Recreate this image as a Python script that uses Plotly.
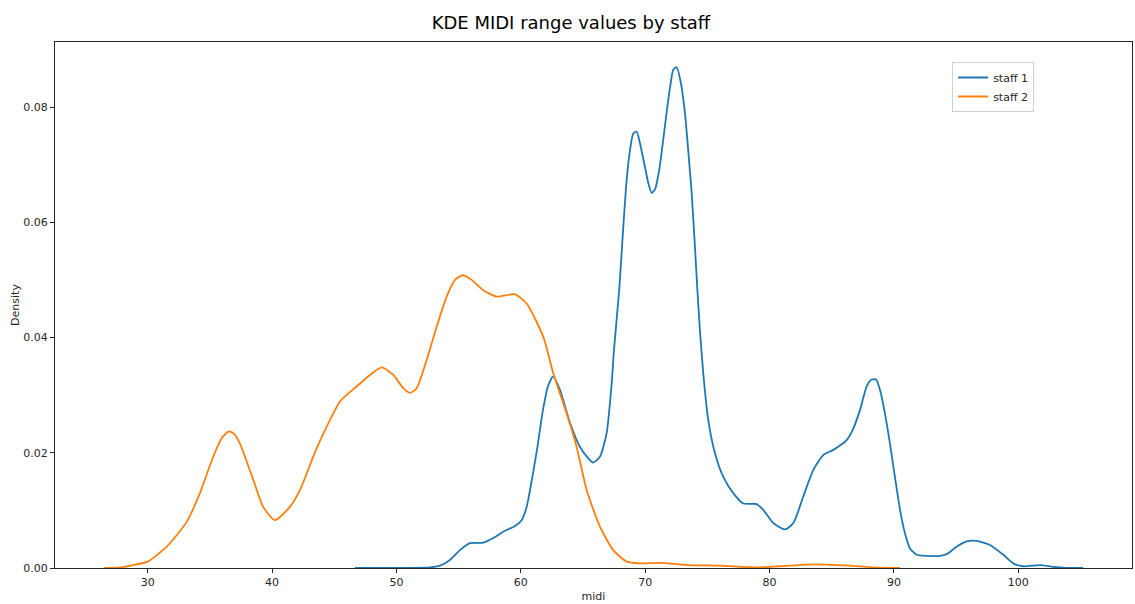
import plotly.graph_objects as go

# Kernel density estimates of MIDI pitch values, one curve per staff
staff1_midi = [46.67, 50.29, 52.70, 53.50, 54.30, 55.11, 55.91, 56.98, 57.79, 58.59,
               59.53, 60.07, 60.47, 60.74, 61.30, 61.78, 62.18, 62.59, 63.15, 63.95,
               64.76, 65.40, 65.80, 66.36, 66.90, 67.31, 67.49, 67.92, 68.24, 68.51,
               68.78, 69.04, 69.32, 69.58, 69.98, 70.25, 70.52, 70.79, 71.13, 71.45,
               71.78, 72.05, 72.26, 72.53, 72.85, 73.20, 73.46, 73.74, 74.00, 74.19,
               74.40, 74.67, 75.07, 75.61, 76.28, 77.08, 77.89, 78.96, 79.49, 80.30,
               81.24, 81.91, 82.71, 83.51, 84.32, 85.12, 86.20, 86.73, 87.27, 87.81,
               88.21, 88.56, 88.88, 89.28, 89.68, 90.08, 90.49, 90.89, 91.29, 91.83,
               92.63, 93.70, 94.24, 95.04, 95.85, 96.65, 97.72, 98.79, 99.59, 100.40,
               101.74, 102.81, 103.89, 105.22]
staff1_density = [0.0, 0.00002, 0.0001, 0.0004, 0.0014, 0.0031, 0.0043, 0.0044, 0.0052, 0.0063,
                  0.0073, 0.0083, 0.0106, 0.0135, 0.0205, 0.0274, 0.0315, 0.0332, 0.0309, 0.0252,
                  0.0210, 0.0191, 0.0183, 0.0193, 0.0234, 0.0321, 0.0378, 0.0485, 0.0592, 0.0673,
                  0.0725, 0.0754, 0.0757, 0.0737, 0.0696, 0.0668, 0.0651, 0.0657, 0.0691, 0.0743,
                  0.0800, 0.0841, 0.0865, 0.0869, 0.0844, 0.0789, 0.0725, 0.0650, 0.0558, 0.0485,
                  0.0413, 0.0338, 0.0257, 0.0199, 0.0158, 0.0130, 0.0112, 0.0111, 0.0101, 0.0078,
                  0.0067, 0.0078, 0.0124, 0.0170, 0.0196, 0.0205, 0.0222, 0.0242, 0.0274, 0.0315,
                  0.0327, 0.0327, 0.0309, 0.0268, 0.0216, 0.0158, 0.0101, 0.0060, 0.0034, 0.0023,
                  0.0021, 0.0021, 0.0024, 0.0037, 0.0046, 0.0047, 0.0040, 0.0023, 0.0008, 0.0003,
                  0.0005, 0.0002, 0.00003, 0.0]

staff2_midi = [26.51, 27.77, 28.84, 30.00, 31.53, 33.14, 34.20, 35.27, 35.97, 36.51,
               36.94, 37.42, 38.49, 39.29, 40.23, 41.44, 42.24, 43.53, 44.66, 45.46,
               46.80, 47.87, 48.81, 49.75, 50.55, 51.09, 51.63, 52.43, 53.24, 54.04,
               54.71, 55.33, 56.05, 56.98, 58.06, 59.53, 60.47, 61.81, 62.61, 63.69,
               64.49, 65.30, 66.36, 67.43, 68.51, 69.58, 71.19, 73.60, 76.01, 78.96,
               80.84, 82.98, 84.46, 86.46, 88.31, 90.49]
staff2_density = [0.0, 0.0001, 0.0005, 0.0011, 0.0037, 0.0080, 0.0130, 0.0193, 0.0226, 0.0237,
                  0.0233, 0.0216, 0.0153, 0.0106, 0.0083, 0.0106, 0.0135, 0.0205, 0.0257, 0.0289,
                  0.0315, 0.0335, 0.0348, 0.0335, 0.0312, 0.0304, 0.0312, 0.0361, 0.0419, 0.0471,
                  0.0500, 0.0508, 0.0500, 0.0482, 0.0471, 0.0475, 0.0459, 0.0401, 0.0338, 0.0268,
                  0.0210, 0.0135, 0.0072, 0.0031, 0.0011, 0.0008, 0.0009, 0.0005, 0.0004, 0.0001,
                  0.0003, 0.0006, 0.0006, 0.0004, 0.0001, 0.0]

series = [
    ("staff 1", staff1_midi, staff1_density, "#1f77b4"),
    ("staff 2", staff2_midi, staff2_density, "#ff7f0e"),
]

fig = go.Figure()
for name, xs, ys, color in series:
    fig.add_trace(go.Scatter(
        x=xs, y=ys, mode="lines", name=name,
        line=dict(color=color, width=1.8, shape="spline", smoothing=0.6),
    ))

axis_style = dict(
    showline=True, mirror=True, linecolor="#262626", linewidth=1,
    ticks="outside", ticklen=4, tickcolor="#262626", tickwidth=1,
    showgrid=False, zeroline=False,
    tickfont=dict(size=11, color="#262626"),
)

fig.update_layout(
    width=1135, height=604,
    margin=dict(l=55, r=3, t=42, b=36),
    paper_bgcolor="white", plot_bgcolor="white",
    font=dict(family="DejaVu Sans", color="#000000"),
    title=dict(text="KDE MIDI range values by staff", x=0.503, xref="container",
               xanchor="center", y=0.963, yanchor="middle",
               font=dict(size=18, color="#000000")),
    legend=dict(x=0.833, y=0.962, xanchor="left", yanchor="top",
                bgcolor="white", bordercolor="#d0d0d0", borderwidth=1,
                font=dict(size=11, color="#262626"), itemwidth=30,
                tracegroupgap=0),
    showlegend=True,
)
fig.update_xaxes(range=[22.55, 109.14], tick0=30, dtick=10,
                 title=dict(text="midi", font=dict(size=11, color="#262626"), standoff=4),
                 automargin=False, **axis_style)
fig.update_yaxes(range=[0, 0.09128], tick0=0, dtick=0.02, tickformat=".2f",
                 title=dict(text="Density", font=dict(size=11, color="#262626"), standoff=1),
                 automargin=False, **axis_style)

fig.write_html("out.html")
